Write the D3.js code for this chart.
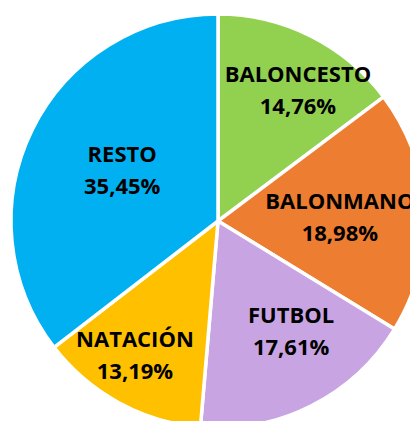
<!DOCTYPE html>
<html>
<head>
<meta charset="utf-8">
<script src="https://cdn.jsdelivr.net/npm/d3@7"></script>
<style>
  body { margin: 0; background: #fff; overflow: hidden; }
  text { font-family: "Open Sans", Lato, sans-serif; font-weight: bold; }
</style>
</head>
<body>
<div id="plot"></div>
<script>
  // datos, en orden de las agujas del reloj desde arriba
  var categories = ["BALONCESTO", "BALONMANO", "FUTBOL", "NATACIÓN", "RESTO"];
  var values = [14.76, 18.98, 17.61, 13.19, 35.45];
  var colors = ["#92D050", "#ED7D31", "#C8A5E2", "#FFC000", "#00B0F0"];

  // colocación de etiquetas: fracción del radio y giro (grados)
  var labelFrac = [0.742, 0.589, 0.638, 0.761, 0.525];
  var labelShift = [4.8, 0.8, -6.8, 3.2, 2.0];

  var width = 410, height = 421;
  var cx = 218, cy = 221, radius = 207;

  var svg = d3.select("#plot")
    .append("svg")
    .attr("width", width)
    .attr("height", height);

  var g = svg.append("g")
    .attr("transform", "translate(" + cx + "," + cy + ")");

  var data = categories.map(function(c, i) {
    return {name: c, value: values[i], color: colors[i], frac: labelFrac[i], shift: labelShift[i]};
  });

  var pie = d3.pie()
    .sort(null)
    .value(function(d) { return d.value; });

  var arc = d3.arc()
    .innerRadius(0)
    .outerRadius(radius);

  var arcs = pie(data);

  g.selectAll(".slice")
    .data(arcs)
    .enter().append("path")
      .attr("class", "slice")
      .attr("d", arc)
      .style("fill", function(d) { return d.data.color; })
      .style("stroke", "#fff")
      .style("stroke-width", 3.5);

  var fmt = function(v) { return v.toFixed(2).replace(".", ",") + "%"; };

  var labels = g.selectAll(".label")
    .data(arcs)
    .enter().append("text")
      .attr("class", "label")
      .attr("text-anchor", "middle")
      .style("font-size", "22px")
      .style("fill", "#000")
      .attr("transform", function(d) {
        var r = radius * d.data.frac;
        var a = (d.startAngle + d.endAngle) / 2 + d.data.shift * Math.PI / 180;
        return "translate(" + (r * Math.sin(a)) + "," + (-r * Math.cos(a)) + ")";
      });

  labels.append("tspan")
    .attr("x", 0)
    .attr("y", -8)
    .text(function(d) { return d.data.name; });

  labels.append("tspan")
    .attr("x", 0)
    .attr("y", 24)
    .text(function(d) { return fmt(d.data.value); });
</script>
</body>
</html>
